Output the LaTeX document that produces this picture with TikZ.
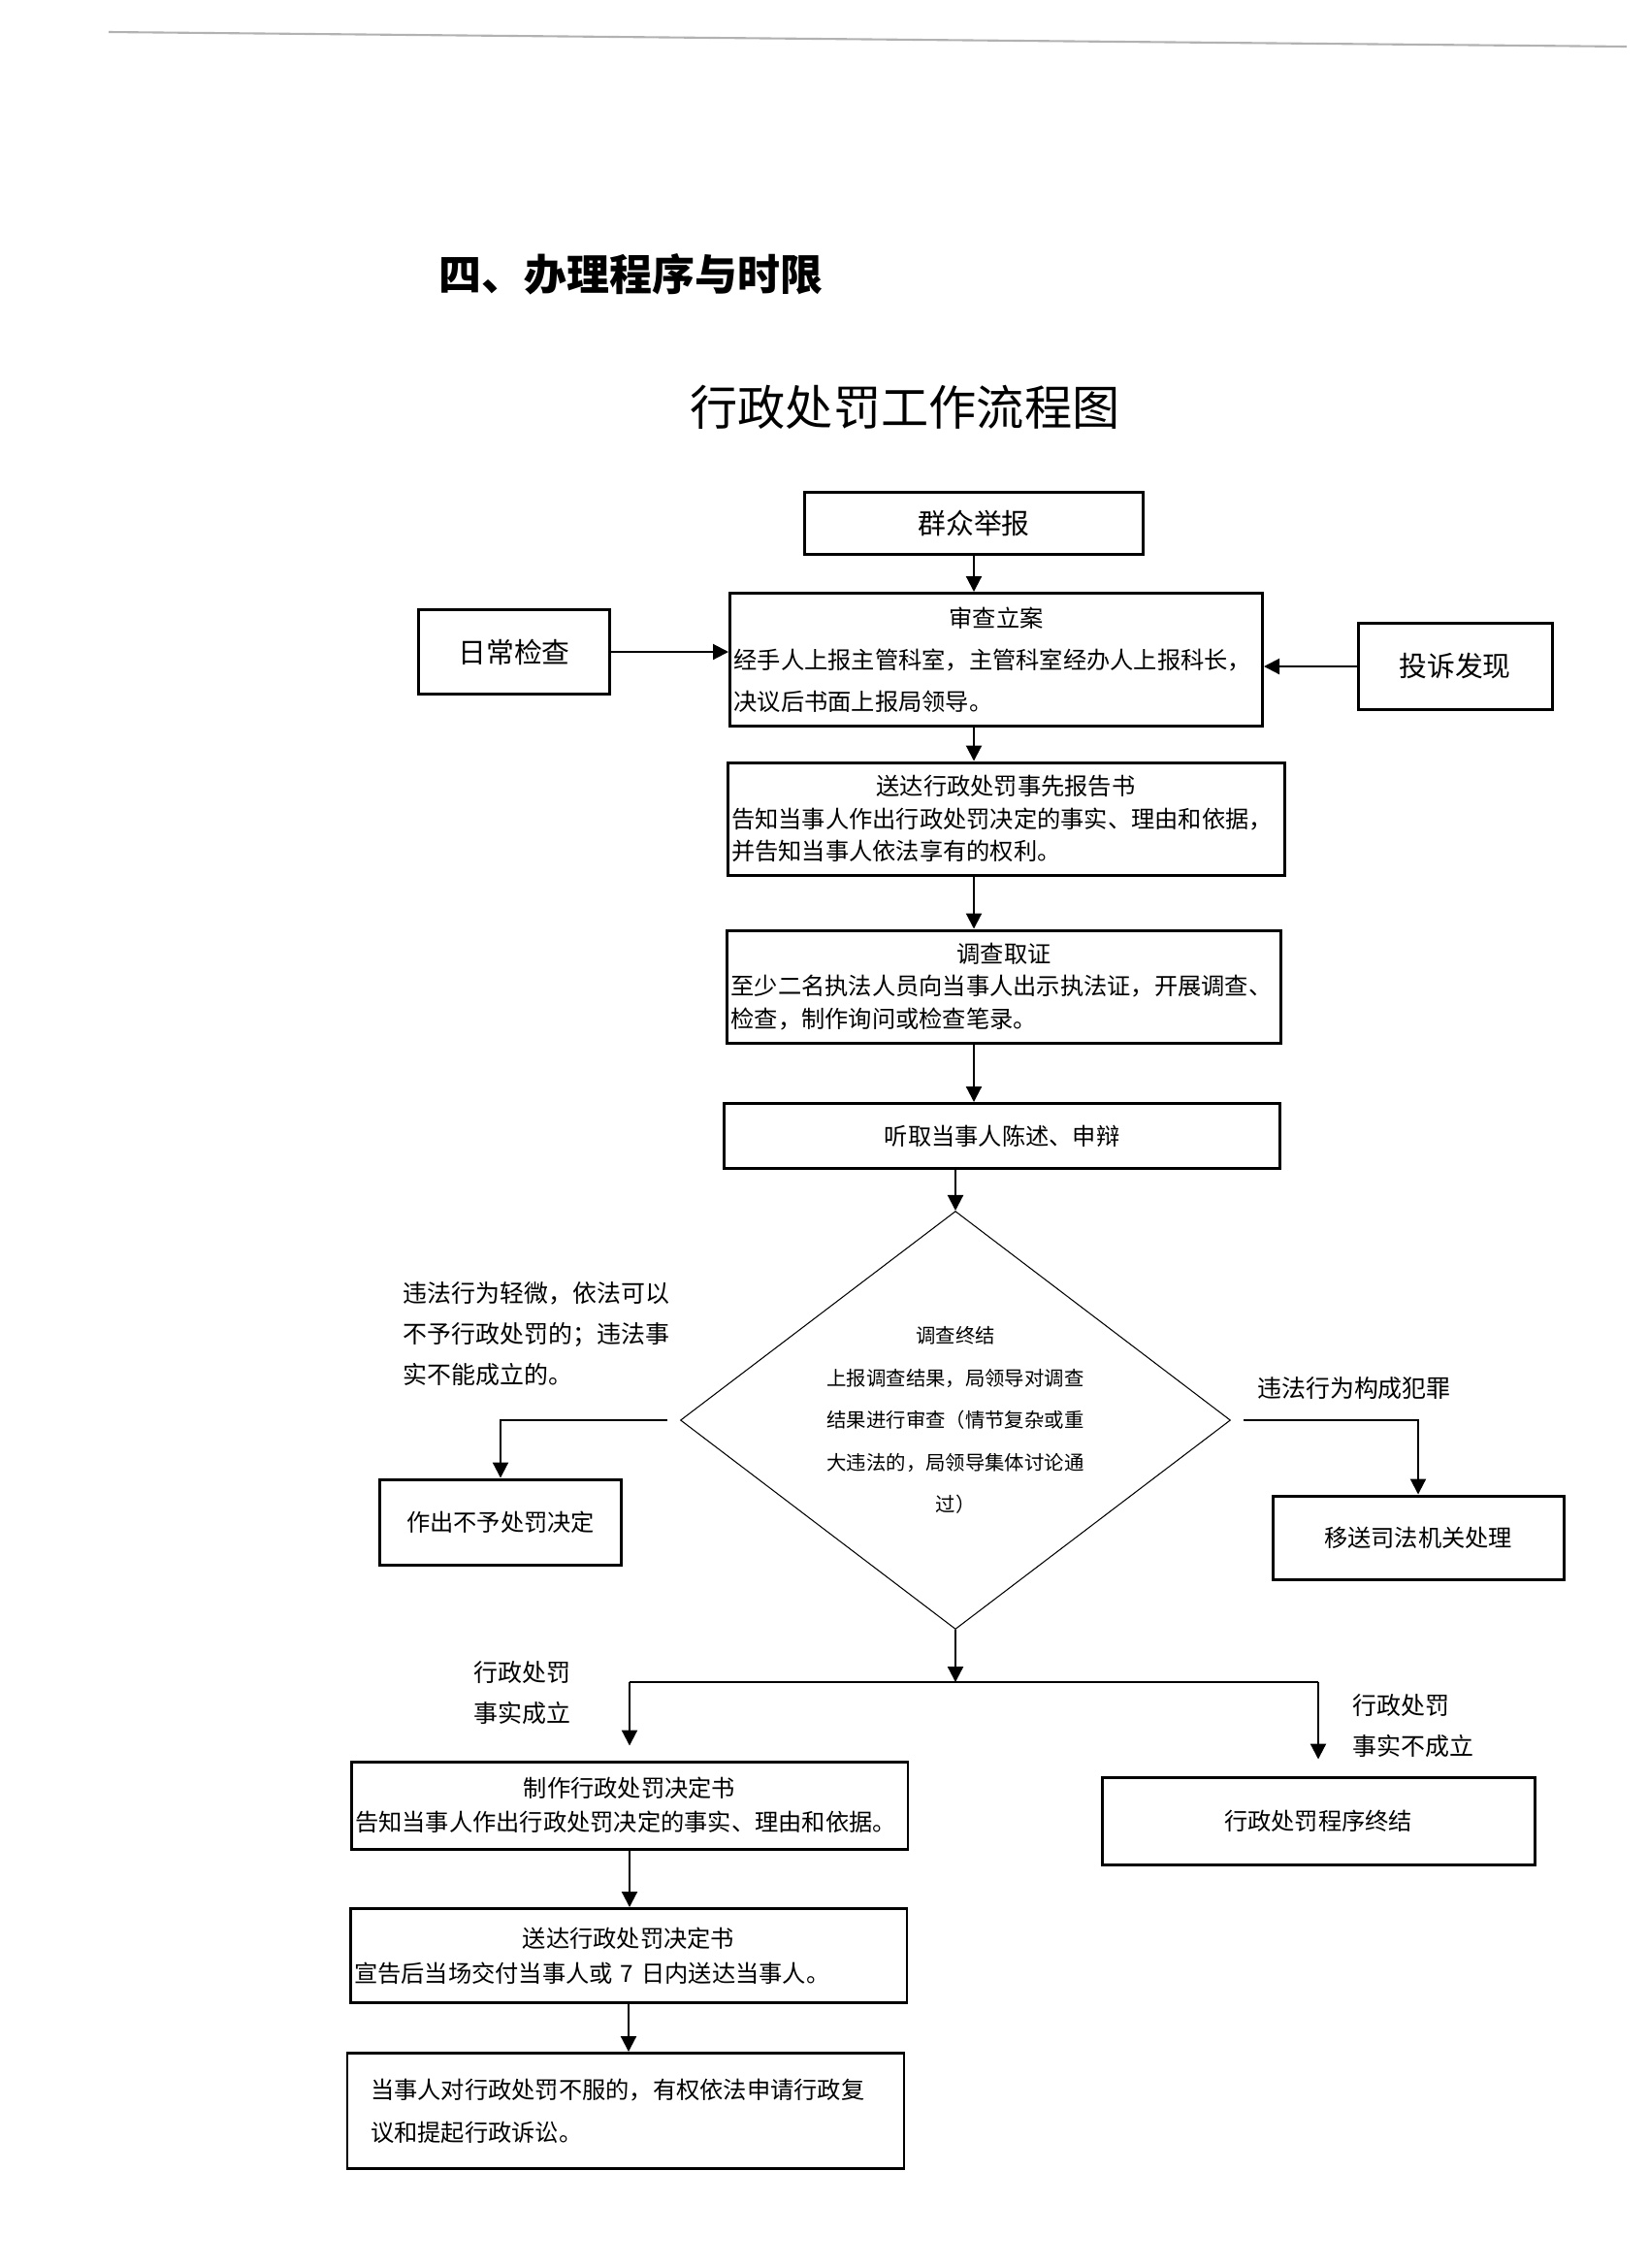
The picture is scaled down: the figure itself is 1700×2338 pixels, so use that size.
\documentclass[tikz,border=0pt]{standalone}
\usepackage{fontspec}
\usepackage{tikz}
\usetikzlibrary{calc}
\usetikzlibrary{positioning}
\usetikzlibrary{shapes.geometric}
\usetikzlibrary{arrows.meta}
\newfontfamily\cjk{Noto Sans CJK SC}

\tikzset{
  procbox/.style={rectangle, draw=black, line width=0.85pt, inner xsep=0.4mm, inner ysep=0pt, align=left, font=\cjk\fontsize{6.9}{9.8}\selectfont},
  bigbox/.style={procbox, font=\cjk\fontsize{8.2}{10}\selectfont},
  flow/.style={black, line width=0.6pt},
  note/.style={inner sep=0pt, align=left, font=\cjk\fontsize{7.1}{11.9}\selectfont},
}
\newcommand\boxhead[1]{\makebox[\linewidth]{#1}}

\begin{document}
\begin{tikzpicture}[x=0.1mm, y=-0.1mm, >={Triangle[length=1.6mm,width=1.6mm]}]

\useasboundingbox (0,0) rectangle (1700,2338);

\draw[gray!60, line width=0.6pt] (112,33) -- (1677,48);

\node at (452,283) [anchor=west, inner sep=0pt, font=\cjk\bfseries\fontsize{12.5}{15}\selectfont] (section) {四、办理程序与时限};
\node at (933,420) [inner sep=0pt, font=\cjk\fontsize{14}{17}\selectfont] (title) {行政处罚工作流程图};

\node at (1004,539) [bigbox, minimum width=34.9mm, minimum height=6.4mm] (report) {群众举报};
\node at (530,672) [bigbox, minimum width=19.7mm, minimum height=8.7mm] (daily) {日常检查};
\node at (1500,687) [bigbox, minimum width=20mm, minimum height=8.9mm] (complaint) {投诉发现};

\node at (1027,680) [procbox, minimum height=13.7mm, text width=54.1mm, font=\cjk\fontsize{6.9}{12.2}\selectfont] (filing) {\boxhead{审查立案}\\经手人上报主管科室，主管科室经办人上报科长，\\决议后书面上报局领导。};
\node at (1037,844) [procbox, minimum height=11.6mm, text width=56.6mm, font=\cjk\fontsize{6.9}{9.6}\selectfont] (notice) {\boxhead{送达行政处罚事先报告书}\\告知当事人作出行政处罚决定的事实、理由和依据，\\并告知当事人依法享有的权利。};
\node at (1035,1017) [procbox, minimum height=11.6mm, text width=56.3mm, font=\cjk\fontsize{6.9}{9.6}\selectfont] (investigate) {\boxhead{调查取证}\\至少二名执法人员向当事人出示执法证，开展调查、\\检查，制作询问或检查笔录。};
\node at (1033,1171) [procbox, minimum width=57.3mm, minimum height=6.7mm] (hearing) {听取当事人陈述、申辩};

\node at (985,1464) [diamond, draw=black, line width=0.3pt, minimum width=56.7mm, minimum height=43.1mm, aspect=1.32, inner sep=0pt, align=center, font=\cjk\fontsize{5.8}{12.4}\selectfont] (judge) {调查终结\\上报调查结果，局领导对调查\\结果进行审查（情节复杂或重\\大违法的，局领导集体讨论通\\过）};

\node at (415,1321) [note, anchor=north west] (minor) {违法行为轻微，依法可以\\不予行政处罚的；违法事\\实不能成立的。};
\node at (1396,1431) [note] (crime) {违法行为构成犯罪};

\node at (516,1569) [procbox, minimum width=24.9mm, minimum height=8.8mm] (nopunish) {作出不予处罚决定};
\node at (1462,1585) [procbox, minimum width=30mm, minimum height=8.6mm] (transfer) {移送司法机关处理};

\coordinate (fork) at ($(judge.south)+(0,54)$);

\node at (488,1712) [note, anchor=north west] (factyes) {行政处罚\\事实成立};
\node at (1394,1746) [note, anchor=north west] (factno) {行政处罚\\事实不成立};

\node at (649,1861) [procbox, minimum height=9mm, text width=56.6mm, font=\cjk\fontsize{6.9}{9.9}\selectfont] (decide) {\boxhead{制作行政处罚决定书}\\告知当事人作出行政处罚决定的事实、理由和依据。};
\node at (1359,1877) [procbox, minimum width=44.6mm, minimum height=9mm] (terminate) {行政处罚程序终结};
\node at (648,2016) [procbox, minimum height=9.7mm, text width=56.6mm, font=\cjk\fontsize{6.9}{10.2}\selectfont] (deliver) {\boxhead{送达行政处罚决定书}\\宣告后当场交付当事人或 7 日内送达当事人。};
\node at (645,2176) [procbox, inner xsep=2.4mm, minimum height=11.9mm, text width=52.6mm, font=\cjk\fontsize{6.9}{12.5}\selectfont] (appeal) {当事人对行政处罚不服的，有权依法申请行政复\\议和提起行政诉讼。};

\draw[flow, ->] (report.south) -- (report.south |- filing.north);
\draw[flow, ->] (daily.east) -- (daily.east -| filing.west);
\draw[flow, ->] (complaint.west) -- (complaint.west -| filing.east);
\draw[flow, ->] (report.south |- filing.south) -- (report.south |- notice.north);
\draw[flow, ->] (report.south |- notice.south) -- (report.south |- investigate.north);
\draw[flow, ->] (report.south |- investigate.south) -- (report.south |- hearing.north);
\draw[flow, ->] (judge.north |- hearing.south) -- (judge.north);

\draw[flow, ->] ($(judge.west)+(-13,0)$) -| (nopunish.north);
\draw[flow, ->] ($(judge.east)+(13,0)$) -| (transfer.north);

\draw[flow, ->] (judge.south) -- (fork);
\draw[flow] (fork -| decide.north) -- (fork -| terminate.north);
\draw[flow, ->, shorten >=1.5mm] (fork -| decide.north) -- (decide.north);
\draw[flow, ->, shorten >=1.7mm] (fork -| terminate.north) -- (terminate.north);

\draw[flow, ->] (decide.south) -- (decide.south |- deliver.north);
\draw[flow, ->] (deliver.south) -- (deliver.south |- appeal.north);

\end{tikzpicture}
\end{document}
